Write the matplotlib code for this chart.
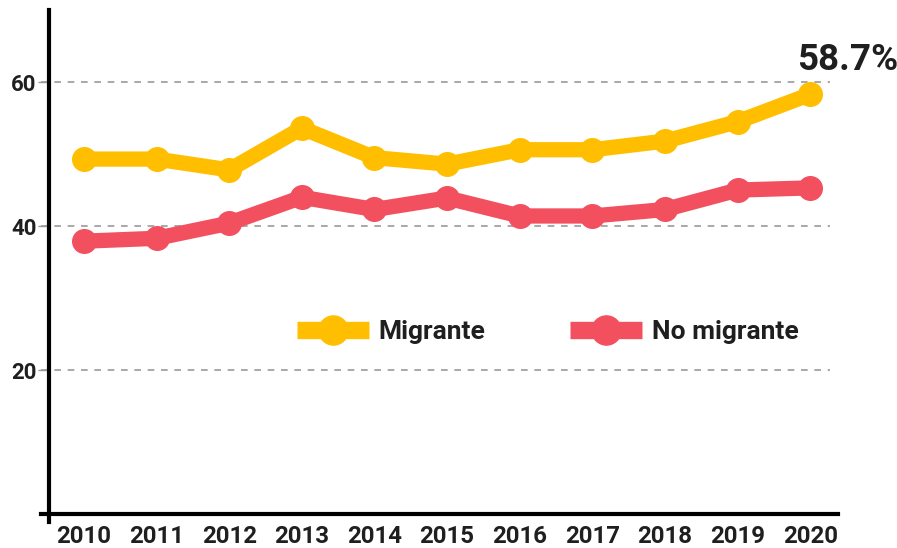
import numpy as np
import matplotlib.pyplot as plt

plt.rcParams['font.family'] = ['Roboto', 'DejaVu Sans']
plt.rcParams['font.weight'] = 'bold'

# datos
years = ['2010', '2011', '2012', '2013', '2014', '2015',
         '2016', '2017', '2018', '2019', '2020']
migrante = [49.3, 49.3, 47.8, 53.6, 49.5, 48.6, 50.6, 50.6, 51.8, 54.5, 58.3]
no_migrante = [37.9, 38.3, 40.4, 44.0, 42.3, 43.9, 41.4, 41.4, 42.3, 45.0, 45.3]
y_ticks = [20, 40, 60]
last_label = '58.7%'

yellow = '#FFBF00'
red = '#F2505F'
dark = '#1f1f1f'

fig = plt.figure(figsize=(8.97, 5.48), dpi=100)
ax = fig.add_axes([0.0457, 0.0474, 0.8885, 0.9343])

x = np.arange(len(years))
ax.plot(x, migrante, color=yellow, lw=11, marker='o', ms=17,
        solid_capstyle='butt', label='Migrante', zorder=3)
ax.plot(x, no_migrante, color=red, lw=11, marker='o', ms=17,
        solid_capstyle='butt', label='No migrante', zorder=3)

# lineas guia
for v in y_ticks:
    ax.axhline(v, xmin=0.0, xmax=0.99, color='#9a9a9a', lw=1.2,
               dashes=(4, 4), zorder=1)

ax.annotate(last_label, (x[-1], migrante[-1]), xytext=(27, 25),
            textcoords='offset points', ha='center', va='center',
            fontsize=26.5, fontweight='bold', color=dark)

ax.set_xlim(-0.59, 10.38)
ax.set_ylim(-1.1, 70)
ax.set_xticks(x)
ax.set_xticklabels(years)
ax.set_yticks(y_ticks)

for s in ['top', 'right']:
    ax.spines[s].set_visible(False)
ax.spines['left'].set_position(('data', -0.48))
ax.spines['bottom'].set_position(('data', 0))
ax.spines['left'].set_linewidth(3)
ax.spines['bottom'].set_linewidth(3)

ax.tick_params(axis='x', length=0, pad=8, labelsize=17.3, labelcolor=dark)
ax.tick_params(axis='y', length=8, width=1, color='#999999', pad=1,
               labelsize=16, labelcolor=dark)

leg = ax.legend(loc='center', bbox_to_anchor=(0.636, 0.371), ncol=2,
                frameon=False, fontsize=19, handlelength=2.73,
                handletextpad=0.38, columnspacing=3.2, numpoints=1)
for t in leg.get_texts():
    t.set_color(dark)
for h in leg.legend_handles:
    h.set_linewidth(12.5)
    h.set_markersize(21)

fig.savefig('out.png', dpi=100)
